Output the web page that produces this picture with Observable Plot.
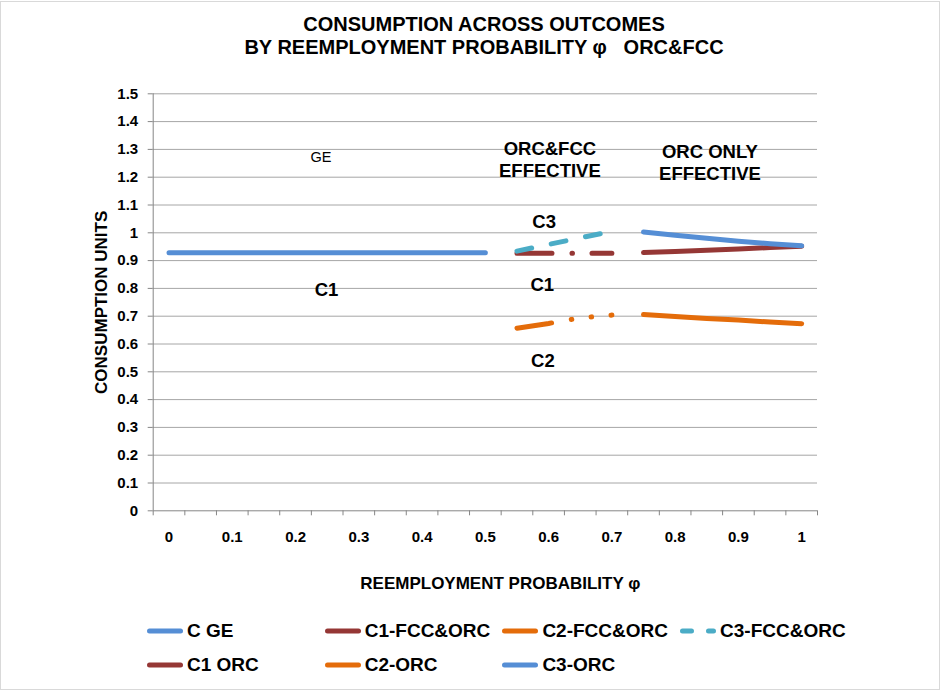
<!DOCTYPE html>
<html><head><meta charset="utf-8">
<script src="https://cdn.jsdelivr.net/npm/d3@7"></script>
<script src="https://cdn.jsdelivr.net/npm/@observablehq/plot@0.6"></script>
<style>
body{margin:0;background:#fff;font-family:"Liberation Sans",Arial,sans-serif;}
#chart{position:relative;width:948px;height:692px;overflow:hidden;background:#fff}
#frame{position:absolute;left:0;top:1px;width:940px;height:689px;border:1px solid #d9d9d9;box-sizing:border-box}
#title{position:absolute;left:0;top:12.5px;width:968px;text-align:center;font-weight:bold;font-size:20px;line-height:23px;color:#000;white-space:pre}
#plot{position:absolute;left:0;top:70px}
#legend{position:absolute;left:147px;top:614px;display:grid;grid-template-columns:repeat(4,177.7px);grid-auto-rows:34px}
.item{display:flex;align-items:center;font-weight:bold;font-size:19px;color:#000;white-space:nowrap}
.item svg{margin-right:4px;flex:none}
</style></head><body>
<div id="chart"><div id="frame"></div><div id="title"></div><div id="plot"></div><div id="legend"></div></div>
<script>
// ---- data ----
const categories = [0,0.05,0.1,0.15,0.2,0.25,0.3,0.35,0.4,0.45,0.5,0.55,0.6,0.65,0.7,0.75,0.8,0.85,0.9,0.95,1];
const xTickLabels = [0,0.1,0.2,0.3,0.4,0.5,0.6,0.7,0.8,0.9,1];
const yTicks = [0,0.1,0.2,0.3,0.4,0.5,0.6,0.7,0.8,0.9,1,1.1,1.2,1.3,1.4,1.5];

const geX = [0,0.05,0.1,0.15,0.2,0.25,0.3,0.35,0.4,0.45,0.5];
const cGE = [0.928,0.928,0.928,0.928,0.928,0.928,0.928,0.928,0.928,0.928,0.928];

const fccX = [0.55,0.6,0.65,0.7];
const c1Fcc = [0.926,0.926,0.926,0.926];
const c2Fcc = [0.657,0.674,0.694,0.704];
const c3Fcc = [0.934,0.958,0.982,1.005];

const orcX = [0.75,0.8,0.85,0.9,0.95,1];
const c1Orc = [0.929,0.933,0.937,0.942,0.947,0.952];
const c2Orc = [0.706,0.699,0.692,0.686,0.679,0.673];
const c3Orc = [1.003,0.991,0.980,0.970,0.961,0.953];

const seriesNames = ["C GE","C1-FCC&ORC","C2-FCC&ORC","C3-FCC&ORC","C1 ORC","C2-ORC","C3-ORC"];
const titleLines = ["CONSUMPTION ACROSS OUTCOMES","BY REEMPLOYMENT PROBABILITY \u03c6   ORC&FCC"];
const xTitle = "REEMPLOYMENT PROBABILITY \u03c6";
const yTitle = "CONSUMPTION UNITS";

const annotationText = ["GE","C1","ORC&FCC\nEFFECTIVE","ORC ONLY\nEFFECTIVE","C3","C1","C2"];
const annotationX = [0.240,0.249,0.602,0.855,0.593,0.590,0.591];
const annotationY = [1.271,0.799,1.266,1.256,1.044,0.817,0.543];
const annotationBold = [false,true,true,true,true,true,true];

// ---- styles ----
const palette = {
  "C GE":"#558ED5","C1-FCC&ORC":"#953735","C2-FCC&ORC":"#E46C0A","C3-FCC&ORC":"#4BACC6",
  "C1 ORC":"#953735","C2-ORC":"#E46C0A","C3-ORC":"#558ED5"
};
const dashes = {
  "C1-FCC&ORC":"35 20 0.5 19.5",
  "C2-FCC&ORC":"35 20 0.5 19.5 0.5 19.5",
  "C3-FCC&ORC":"15 20"
};
const legendDashes = {"C3-FCC&ORC":"9 17"};
const seriesData = {
  "C GE":[geX,cGE],"C1-FCC&ORC":[fccX,c1Fcc],"C2-FCC&ORC":[fccX,c2Fcc],"C3-FCC&ORC":[fccX,c3Fcc],
  "C1 ORC":[orcX,c1Orc],"C2-ORC":[orcX,c2Orc],"C3-ORC":[orcX,c3Orc]
};

const half = 0.025;
const bounds = categories.map(c => c - half).concat([categories[categories.length-1] + half]);
const annotations = annotationText.map((t,i) => ({text:t, x:annotationX[i], y:annotationY[i], bold:annotationBold[i]}));
const fmt = d3.format("~g");

document.getElementById("title").textContent = titleLines.join("\n");

const lineMarks = seriesNames.map(name => {
  const [xs, ys] = seriesData[name];
  return Plot.line(ys, {x: xs, y: ys, stroke: palette[name], strokeWidth: 5,
    strokeLinecap: "round", strokeLinejoin: "round", strokeDasharray: dashes[name] || null});
});

const plot = Plot.plot({
  width: 948, height: 530,
  marginLeft: 152.7, marginRight: 131, marginTop: 23.3, marginBottom: 89.7,
  style: {fontFamily: '"Liberation Sans", Arial, sans-serif', background: "transparent", color: "#000"},
  x: {type: "linear", domain: [bounds[0], bounds[bounds.length-1]]},
  y: {type: "linear", domain: [0, 1.5]},
  marks: [
    Plot.ruleY(yTicks.filter(d => d > 0), {stroke: "#a6a6a6", strokeWidth: 1}),
    Plot.ruleY([0], {stroke: "#868686", strokeWidth: 1}),
    Plot.ruleX([bounds[0]], {stroke: "#868686", strokeWidth: 1}),
    Plot.axisY(yTicks, {tickSize: 5, tickPadding: 10, tickFormat: fmt, label: null,
      stroke: "#868686", fill: "#000", fontSize: 15, fontWeight: "bold"}),
    Plot.axisX(bounds, {tickSize: 5, tickFormat: () => "", label: null, stroke: "#868686"}),
    Plot.axisX(xTickLabels, {tickSize: 0, tickPadding: 20.7, tickFormat: fmt, label: null,
      fill: "#000", fontSize: 15, fontWeight: "bold"}),
    ...lineMarks,
    Plot.text(annotations.filter(d => d.bold), {x: "x", y: "y", text: "text", fontSize: 18.5, fontWeight: "bold",
      fill: "#000", lineHeight: 1.22, lineAnchor: "middle", textAnchor: "middle"}),
    Plot.text(annotations.filter(d => !d.bold), {x: "x", y: "y", text: "text", fontSize: 14.5,
      fill: "#000", lineAnchor: "middle", textAnchor: "middle"}),
    Plot.text([yTitle], {frameAnchor: "left", dx: -52, rotate: -90, textAnchor: "middle", lineAnchor: "middle",
      fontSize: 17, fontWeight: "bold", fill: "#000"}),
    Plot.text([xTitle], {frameAnchor: "bottom", dx: 15, dy: 72.7, textAnchor: "middle", lineAnchor: "middle",
      fontSize: 17, fontWeight: "bold", fill: "#000"})
  ]
});
document.getElementById("plot").appendChild(plot);

// legend
const legend = document.getElementById("legend");
seriesNames.forEach(name => {
  const item = document.createElement("div");
  item.className = "item";
  const ns = "http://www.w3.org/2000/svg";
  const svg = document.createElementNS(ns, "svg");
  svg.setAttribute("width", 36); svg.setAttribute("height", 10);
  const ln = document.createElementNS(ns, "line");
  ln.setAttribute("x1", 2.5); ln.setAttribute("x2", 33.5); ln.setAttribute("y1", 5); ln.setAttribute("y2", 5);
  ln.setAttribute("stroke", palette[name]); ln.setAttribute("stroke-width", 5);
  ln.setAttribute("stroke-linecap", "round");
  if (legendDashes[name]) ln.setAttribute("stroke-dasharray", legendDashes[name]);
  svg.appendChild(ln);
  item.appendChild(svg);
  const span = document.createElement("span");
  span.textContent = name;
  item.appendChild(span);
  legend.appendChild(item);
});
</script></body></html>
